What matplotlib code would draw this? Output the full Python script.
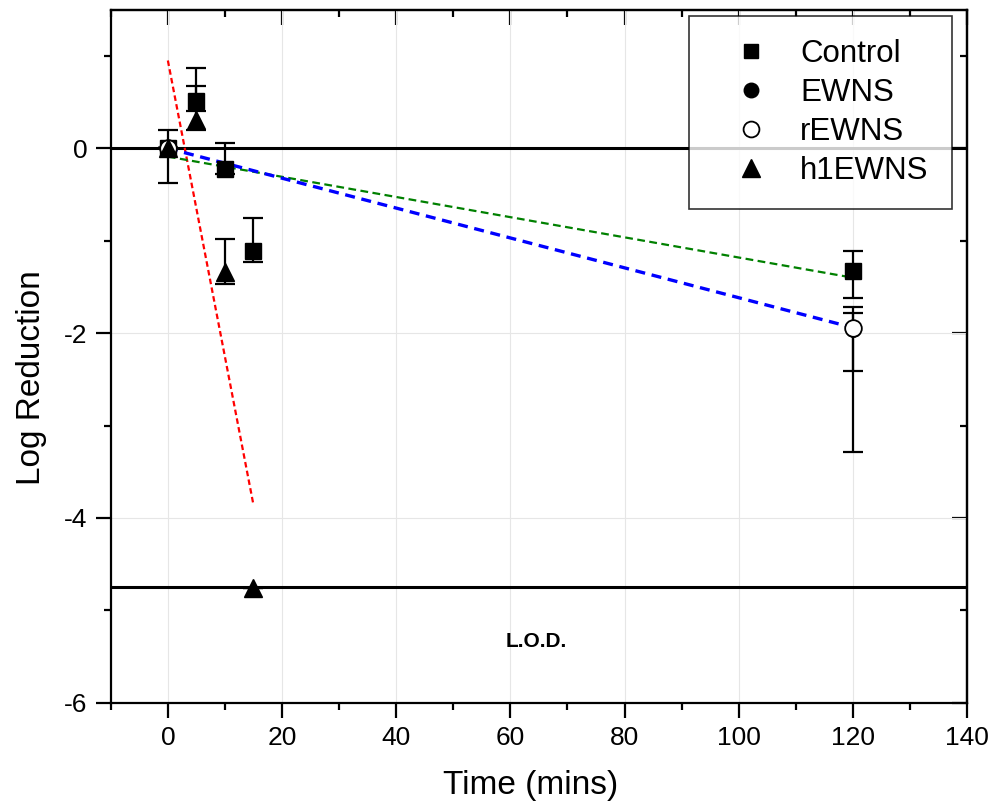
import numpy as np
import matplotlib.pyplot as plt
from matplotlib.ticker import MultipleLocator

plt.rcParams['font.family'] = ['Liberation Sans', 'DejaVu Sans']
plt.rcParams['axes.unicode_minus'] = False

# measured log reductions (time in mins)
control_t = [0, 5, 10, 15, 120]
control_y = [0.0, 0.51, -0.22, -1.11, -1.33]
control_lo = [0.38, 0.11, 0.06, 0.12, 0.29]
control_hi = [0.20, 0.36, 0.28, 0.36, 0.22]

ewns_t = [0, 120]
ewns_y = [0.0, -1.95]
ewns_lo = [0.0, 0.46]
ewns_hi = [0.0, 0.23]

rewns_t = [0, 120]
rewns_y = [0.0, -1.94]
rewns_lo = [0.0, 1.35]
rewns_hi = [0.0, 0.16]

h1_t = [0, 5, 10, 15]
h1_y = [0.0, 0.31, -1.34, -4.76]
h1_lo = [0.0, 0.11, 0.13, 0.0]
h1_hi = [0.0, 0.36, 0.36, 0.0]

# linear fits (end points)
fit_red_t = [0, 15]
fit_red_y = [0.95, -3.86]
fit_blue_t = [0, 120]
fit_blue_y = [0.0, -1.94]
fit_green_t = [0, 120]
fit_green_y = [-0.09, -1.40]

lod = -4.75

fig = plt.figure(figsize=(9.98, 8.06), dpi=100)
ax = fig.add_axes([0.111, 0.128, 0.858, 0.860])

ax.grid(True, color='#e6e6e6', lw=0.8)
ax.set_axisbelow(True)

ax.axhline(0, color='black', lw=2.2, zorder=2)
ax.axhline(lod, color='black', lw=2.2, zorder=2)

ax.plot(fit_red_t, fit_red_y, color='red', ls=(0, (2.5, 1.5)), lw=1.6, zorder=3)
ax.plot(fit_green_t, fit_green_y, color='green', ls=(0, (3.5, 2)), lw=1.6, zorder=3)
ax.plot(fit_blue_t, fit_blue_y, color='blue', ls=(0, (3, 2)), lw=2.4, zorder=3)

eb = dict(fmt='none', ecolor='black', elinewidth=1.6, capsize=7, capthick=1.6, zorder=4)
ax.errorbar(control_t, control_y, yerr=[control_lo, control_hi], **eb)
ax.errorbar(ewns_t, ewns_y, yerr=[ewns_lo, ewns_hi], **eb)
ax.errorbar(rewns_t, rewns_y, yerr=[rewns_lo, rewns_hi], **eb)
ax.errorbar(h1_t, h1_y, yerr=[h1_lo, h1_hi], **eb)

h_c, = ax.plot(control_t, control_y, 's', color='black', ms=11, ls='none', zorder=5, label='Control')
h_e, = ax.plot(ewns_t, ewns_y, 'o', color='black', ms=11, ls='none', zorder=5, label='EWNS')
h_r, = ax.plot(rewns_t, rewns_y, 'o', mfc='white', mec='black', mew=1.3, ms=12, ls='none', zorder=6, label='rEWNS')
h_h, = ax.plot(h1_t, h1_y, '^', color='black', ms=13, ls='none', zorder=7, label='h1EWNS')

ax.text(64.5, -5.34, 'L.O.D.', fontsize=15, fontweight='bold', ha='center', va='center')

ax.set_xlim(-10, 140)
ax.set_ylim(-6, 1.5)
ax.xaxis.set_major_locator(MultipleLocator(20))
ax.xaxis.set_minor_locator(MultipleLocator(10))
ax.yaxis.set_major_locator(MultipleLocator(2))
ax.yaxis.set_minor_locator(MultipleLocator(1))

for s in ax.spines.values():
    s.set_linewidth(1.6)

ax.tick_params(which='major', direction='out', length=11, width=1.6, labelsize=19, pad=6)
ax.tick_params(which='minor', direction='out', length=5, width=1.6)

# top / right ticks point inward, no labels
top = ax.secondary_xaxis('top')
top.xaxis.set_major_locator(MultipleLocator(20))
top.xaxis.set_minor_locator(MultipleLocator(10))
top.tick_params(which='major', direction='in', length=11, width=1.6, labeltop=False)
top.tick_params(which='minor', direction='in', length=5, width=1.6)
top.spines['top'].set_linewidth(1.6)
right = ax.secondary_yaxis('right')
right.yaxis.set_major_locator(MultipleLocator(2))
right.yaxis.set_minor_locator(MultipleLocator(1))
right.tick_params(which='major', direction='in', length=11, width=1.6, labelright=False)
right.tick_params(which='minor', direction='in', length=5, width=1.6)
right.spines['right'].set_linewidth(1.6)

ax.set_xlabel('Time (mins)', fontsize=24)
ax.set_ylabel('Log Reduction', fontsize=24)
ax.xaxis.set_label_coords(0.49, -0.097)
ax.yaxis.set_label_coords(-0.075, 0.469)

leg = ax.legend(handles=[h_c, h_e, h_r, h_h], loc='upper right',
                bbox_to_anchor=(0.9825, 0.991), borderaxespad=0,
                fontsize=22.5, frameon=True, fancybox=False, edgecolor='black',
                handlelength=2.45, handletextpad=0.35, borderpad=0.75,
                labelspacing=0.28, markerscale=0.95)
leg.get_frame().set_linewidth(1.2)
leg.set_zorder(10)

fig.savefig('out.png', dpi=100)
